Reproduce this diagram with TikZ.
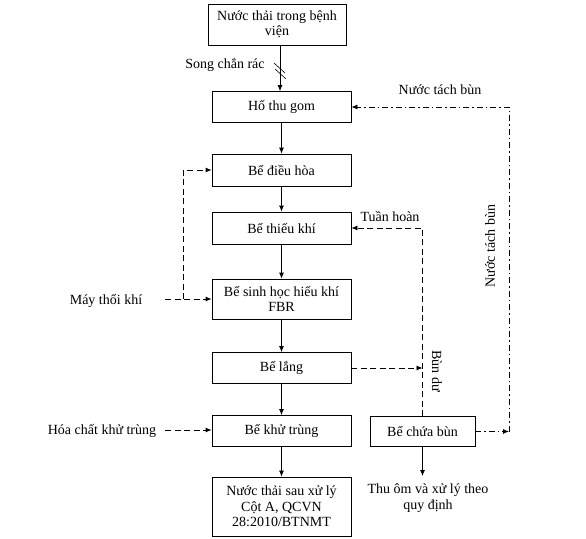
\documentclass[tikz,border=0pt]{standalone}
\usepackage{fontspec}
\setmainfont{Liberation Serif}
\usetikzlibrary{arrows.meta}
\begin{document}
\begin{tikzpicture}[x=1pt,y=-1pt,
  box/.style={draw,line width=0.8pt,minimum width=139pt,minimum height=31pt,align=center,inner sep=2pt,font=\fontsize{14}{15.5}\selectfont},
  lbl/.style={align=center,inner sep=1pt,font=\fontsize{14}{15.5}\selectfont},
  arr/.style={line width=0.8pt,-{Latex[length=6pt,width=5pt]}},
  dsh/.style={arr,dash pattern=on 6pt off 3.5pt},
  dd/.style={arr,dash pattern=on 6pt off 3pt on 1.5pt off 3pt}]
\useasboundingbox (0,0) rectangle (586,538);
\node[box,minimum width=138pt,minimum height=41pt] (b0) at (277,24.5) {Nước thải trong bệnh\\viện};
\node[box] (b1) at (281.5,107) {Hố thu gom};
\node[box,minimum height=32pt] (b2) at (281.5,170) {Bể điều hòa};
\node[box,minimum height=32pt] (b3) at (281.5,228) {Bể thiếu khí};
\node[box,minimum height=40pt] (b4) at (281.5,299) {Bể sinh học hiếu khí\\FBR};
\node[box] (b5) at (281.5,368) {Bể lắng};
\node[box] (b6) at (281.5,431) {Bể khử trùng};
\node[box,minimum height=59pt] (b7) at (281.5,506.5) {Nước thải sau xử lý\\Cột A, QCVN\\28:2010/BTNMT};
\node[box,minimum width=105pt,minimum height=30pt] (b8) at (422.5,431.5) {Bể chứa bùn};
\node[lbl] (song) at (225,65) {Song chắn rác};
\node[lbl] (may) at (106,301) {Máy thổi khí};
\node[lbl] (hoa) at (102,431) {Hóa chất khử trùng};
\node[lbl] (thu) at (428,498) {Thu ôm và xử lý theo\\quy định};
\node[lbl] (ntb) at (440,90) {Nước tách bùn};
\node[lbl,rotate=90] (ntbv) at (490,246) {Nước tách bùn};
\node[lbl] (th) at (390,216) {Tuần hoàn};
\node[lbl,rotate=-90] (bd) at (437,371) {Bùn dư};
% main flow
\draw[arr] (b0.south -| b1.north) ++(-1.5,0) coordinate (s0) -- (s0 |- b1.north);
\draw[line width=0.6pt] (274,63) -- (285,73) (275,69) -- (286,79);
\draw[arr] (b1) -- (b2);
\draw[arr] (b2) -- (b3);
\draw[arr] (b3) -- (b4);
\draw[arr] (b4) -- (b5);
\draw[arr] (b5) -- (b6);
\draw[arr] (b6) -- (b7);
% air blower
\coordinate (m0) at (165,299);
\coordinate (m1) at (183,299);
\draw[dsh] (m0) -- (b4.west |- m0);
\draw[dsh] (m1) |- (b2.west);
% chemical
\coordinate (h0) at (165,430);
\draw[dsh] (h0) -- (b6.west |- h0);
% sludge
\coordinate (v0) at (422.5,228);
\coordinate (v1) at (422.5,368);
\draw[dsh] (b8.north) -- (v0) -- (b3.east);
\draw[dsh] (b5.east) -- (v1);
% water separated
\coordinate (r0) at (509,431.5);
\coordinate (r1) at (509,107);
\draw[dd] (b8.east) -- (r0);
\draw[dd] (r0) -- (r1) -- (b1.east);
% final
\draw[arr] (b8.south) -- (422.5,476);
\end{tikzpicture}
\end{document}
